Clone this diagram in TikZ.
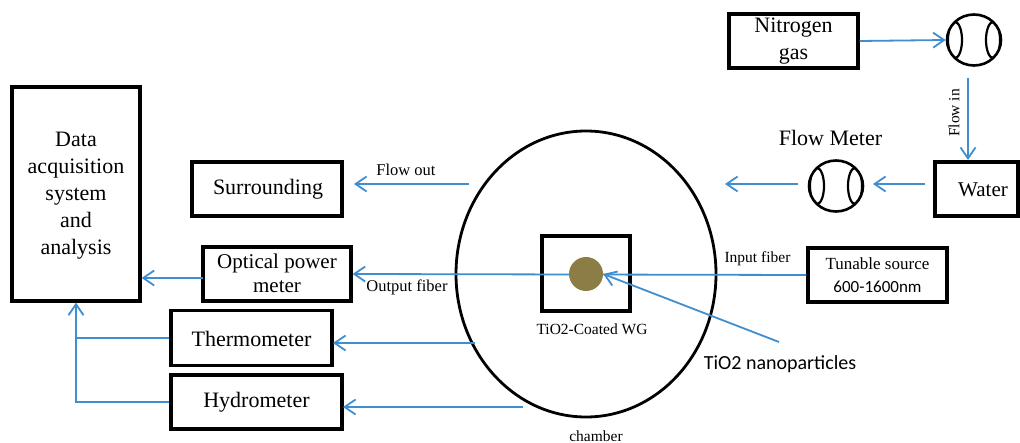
\documentclass[tikz,border=0pt]{standalone}
\usepackage{fontspec}
\setmainfont{Liberation Serif}
\newfontfamily\timesfont{Liberation Serif}
\newfontfamily\calibrifont{Carlito}
\usetikzlibrary{arrows.meta,shapes.geometric}
\definecolor{lineblue}{RGB}{62,142,208}
\definecolor{gold}{RGB}{140,125,70}
\tikzset{
  blkbox/.style={draw=black, line width=3.2pt, inner sep=0pt},
  txt/.style={inner sep=0pt, align=center},
  bigtxt/.style={font=\timesfont\fontsize{22}{27}\selectfont},
  midtxt/.style={font=\timesfont\fontsize{17}{23}\selectfont},
  lbl/.style={inner sep=0pt, font=\timesfont\fontsize{15.5}{18}\selectfont},
  conn/.style={draw=lineblue, line width=1.8pt, -{Straight Barb[length=11pt,width=15pt,line width=1.8pt]}},
  plain/.style={draw=lineblue, line width=1.8pt},
  meter/.style={draw=black, ellipse, line width=2.6pt, inner sep=0pt, minimum width=54pt, minimum height=51pt},
}
\begin{document}
\begin{tikzpicture}[x=1pt,y=-1pt]
\useasboundingbox (0,0) rectangle (1020,443);
\clip (0,0) rectangle (1020,443);

% boxes (frames)
\node[blkbox,minimum width=128,minimum height=214] (data) at (76,194) {};
\node[blkbox,minimum width=150,minimum height=54] (surr) at (267,189) {};
\node[blkbox,minimum width=148,minimum height=54] (opm) at (277,274) {};
\node[blkbox,minimum width=161,minimum height=55] (thermo) at (251.5,338) {};
\node[blkbox,minimum width=171,minimum height=54] (hydro) at (256.5,402) {};
\node[blkbox,minimum width=129,minimum height=54] (nitro) at (793.5,41) {};
\node[blkbox,minimum width=83,minimum height=54] (water) at (976.5,189) {};
\node[blkbox,minimum width=139,minimum height=54] (source) at (877.5,275) {};

% box texts
\node[txt,bigtxt] (dataT) at (76,196) {Data\\acquisition\\system\\and\\analysis};
\node[txt,bigtxt] (surrT) at (268,189) {Surrounding};
\node[txt,font=\timesfont\fontsize{21}{24}\selectfont] (opmT) at (277,273) {Optical power\\meter};
\node[txt,bigtxt] (thermoT) at (251.5,339) {Thermometer};
\node[txt,bigtxt] (hydroT) at (256.5,402) {Hydrometer};
\node[txt,bigtxt] (nitroT) at (793.5,41) {Nitrogen\\gas};
\node[txt,font=\timesfont\fontsize{21}{25}\selectfont] (waterT) at (983,190) {Water};
\node[txt,midtxt] (sourceT) at (877.5,275) {Tunable source\\{\calibrifont 600-1600nm}};

% flow meters
\node[meter] (fmA) at (974,40) {};
\begin{scope}
  \clip (974,40) ellipse [x radius=27, y radius=25.5];
  \draw[line width=2.2pt] (955,40) ellipse [x radius=7, y radius=18];
  \draw[line width=2.2pt] (993,40) ellipse [x radius=7, y radius=18];
\end{scope}
\node[meter] (fmB) at (836,186) {};
\begin{scope}
  \clip (836,186) ellipse [x radius=27, y radius=25.5];
  \draw[line width=2.2pt] (817,186) ellipse [x radius=7, y radius=18];
  \draw[line width=2.2pt] (855,186) ellipse [x radius=7, y radius=18];
\end{scope}

% chamber
\node[draw=black, ellipse, line width=2.8pt, minimum width=260pt, minimum height=286pt, inner sep=0pt] (chamber) at (586,274) {};
\node[blkbox,minimum width=88,minimum height=75] (wg) at (586,273.5) {};

% free coordinates
\coordinate (flowinS) at (968,78);
\coordinate (flowinE) at (968,160);
\coordinate (waterOut) at (925,184);
\coordinate (fmBin) at (873,184);
\coordinate (fmBout) at (798,184);
\coordinate (chIn) at (725,184);
\coordinate (chOut) at (469,184);
\coordinate (surrIn) at (354,184);
\coordinate (thS) at (475,343);
\coordinate (thE) at (333,343);
\coordinate (hyS) at (523,407);
\coordinate (hyE) at (343,407);
\coordinate (np) at (779,342);
\coordinate (opmOut) at (203,278);

% connectors
\draw[conn] (nitro.east) -- (fmA.west);
\draw[conn] (flowinS) -- (flowinE);
\draw[conn] (waterOut) -- (fmBin);
\draw[conn] (fmBout) -- (chIn);
\draw[conn] (chOut) -- (surrIn);
\draw[conn] (source.west) -- (opm.east);
\draw[conn] (opmOut) -- (opmOut -| data.east);
\draw[conn] (thS) -- (thE);
\draw[conn] (hyS) -- (hyE);
\draw[plain] (thermo.west) -- (thermo.west -| data.south);
\draw[conn] (hydro.west) -- (hydro.west -| data.south) -- (data.south);

% nanoparticle dot
\node[circle, fill=gold, minimum size=34pt, inner sep=0pt] (dot) at (586,274) {};
\draw[conn] (np) -- (dot.east);

% labels
\node[lbl,font=\timesfont\fontsize{16.5}{18}\selectfont] (lflowout) at (406,170) {Flow out};
\node[lbl,font=\timesfont\fontsize{16.5}{18}\selectfont] (loutput) at (407,287) {Output fiber};
\node[lbl] (linput) at (757.5,259) {Input fiber};
\node[lbl] (lwg) at (592,329) {TiO2-Coated WG};
\node[lbl] (lchamber) at (596,436) {chamber};
\node[lbl,rotate=90] (lflowin) at (954,113) {Flow in};
\node[inner sep=0pt,font=\timesfont\fontsize{22}{24}\selectfont] (lfm) at (830.5,138) {Flow Meter};
\node[inner sep=0pt,font=\calibrifont\fontsize{20}{22}\selectfont] (lnp) at (780,364) {TiO2 nanoparticles};
\end{tikzpicture}
\end{document}
